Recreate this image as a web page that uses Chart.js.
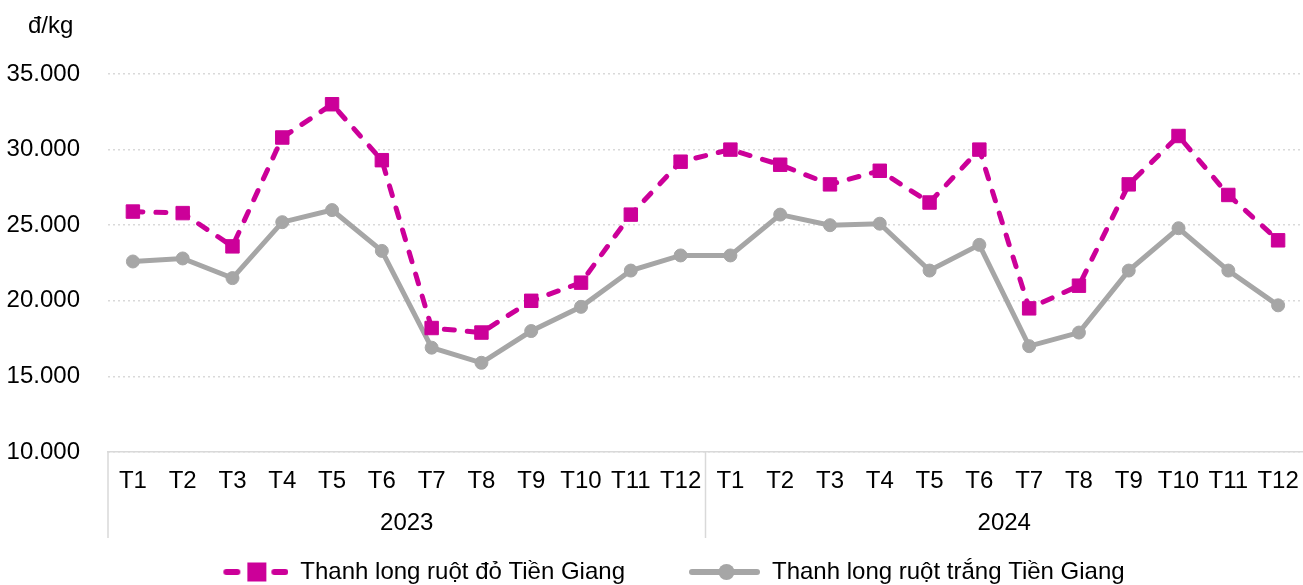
<!DOCTYPE html>
<html>
<head>
<meta charset="utf-8">
<script src="https://cdn.jsdelivr.net/npm/chart.js@4.4.1/dist/chart.umd.min.js"></script>
<style>
  html, body { margin: 0; padding: 0; background: #fff; }
</style>
</head>
<body>
<canvas id="chart" width="1303" height="585"></canvas>
<script>
const months = ["T1", "T2", "T3", "T4", "T5", "T6", "T7", "T8", "T9", "T10", "T11", "T12"];
const years = ["2023", "2024"];
const labels = [...months, ...months];
const seriesNames = ["Thanh long ruột đỏ Tiền Giang", "Thanh long ruột trắng Tiền Giang"];
const redFlesh = [25900, 25800, 23600, 30800, 33000, 29300, 18200, 17900, 20000, 21200, 25700, 29200,
                  30000, 29000, 27700, 28600, 26500, 30000, 19500, 21000, 27700, 30900, 27000, 24000];
const whiteFlesh = [22600, 22800, 21500, 25200, 26000, 23300, 16900, 15900, 18000, 19600, 22000, 23000,
                    23000, 25700, 25000, 25100, 22000, 23700, 17000, 17900, 22000, 24800, 22000, 19700];
const yMin = 10000, yMax = 35000, yStep = 5000;
const unitLabel = "đ/kg";

const fontFamily = "'Liberation Sans', Arial, sans-serif";
const font = { family: fontFamily, size: 24 };
const magenta = "#CC0099";
const gray = "#A6A6A6";
const lineGray = "#D9D9D9";

// legend icons: line + marker, drawn at the right end of a wide box
function makeIcon(kind) {
  const c = document.createElement("canvas");
  c.width = 130; c.height = 24;
  const g = c.getContext("2d");
  g.lineCap = "round";
  if (kind === "rect") {
    const x0 = 65;
    g.strokeStyle = magenta; g.fillStyle = magenta; g.lineWidth = 6;
    g.beginPath(); g.moveTo(x0 + 3, 12); g.lineTo(x0 + 14, 12); g.stroke();
    g.beginPath(); g.moveTo(x0 + 51, 12); g.lineTo(x0 + 62, 12); g.stroke();
    g.fillRect(x0 + 24, 2.5, 19, 19);
  } else {
    const x0 = 59;
    g.strokeStyle = gray; g.fillStyle = gray; g.lineWidth = 6;
    g.beginPath(); g.moveTo(x0 + 3, 12); g.lineTo(x0 + 68, 12); g.stroke();
    g.beginPath(); g.arc(x0 + 37.5, 12, 8, 0, Math.PI * 2); g.fill();
  }
  return c;
}
const legendIcons = [makeIcon("rect"), makeIcon("circle")];

// vertical lines splitting the two year groups under the axis
const yearSeparators = {
  id: "yearSeparators",
  afterDraw(chart) {
    const x = chart.scales.x, x2 = chart.scales.x2, ctx = chart.ctx;
    ctx.save();
    ctx.strokeStyle = lineGray;
    ctx.lineWidth = 1.5;
    for (let i = 0; i < labels.length; i += months.length) {
      const px = x.getPixelForValue(i - 0.5);
      ctx.beginPath();
      ctx.moveTo(px, x.top);
      ctx.lineTo(px, x2.top + 38);
      ctx.stroke();
    }
    ctx.restore();
  }
};

const unitText = {
  id: "unitText",
  afterDraw(chart) {
    const ctx = chart.ctx;
    ctx.save();
    ctx.font = `24px ${fontFamily}`;
    ctx.fillStyle = "#000";
    ctx.textBaseline = "middle";
    ctx.fillText(unitLabel, chart.scales.y.right - 80, 26);
    ctx.restore();
  }
};

new Chart(document.getElementById("chart"), {
  type: "line",
  data: {
    labels: labels,
    datasets: [
      {
        label: seriesNames[0],
        data: redFlesh,
        borderColor: magenta,
        backgroundColor: magenta,
        borderWidth: 5,
        borderDash: [10, 13],
        borderCapStyle: "round",
        tension: 0,
        pointStyle: "rect",
        pointRadius: 9.5,
        pointBackgroundColor: magenta,
        pointBorderColor: magenta,
        pointBorderWidth: 1,
      },
      {
        label: seriesNames[1],
        data: whiteFlesh,
        borderColor: gray,
        backgroundColor: gray,
        borderWidth: 5,
        tension: 0,
        pointStyle: "circle",
        pointRadius: 6.5,
        pointBackgroundColor: gray,
        pointBorderColor: gray,
        pointBorderWidth: 1,
      }
    ]
  },
  options: {
    responsive: false,
    devicePixelRatio: 1,
    animation: false,
    events: [],
    // negative side paddings nudge the centred legend to where the original sits
    layout: { autoPadding: false, padding: { top: 74, left: -20, right: 0, bottom: -9 } },
    plugins: {
      tooltip: { enabled: false },
      title: { display: false },
      legend: {
        position: "bottom",
        labels: {
          usePointStyle: true,
          pointStyleWidth: 130,
          padding: 5,
          color: "#000",
          font: font,
          generateLabels: chart => chart.data.datasets.map((ds, i) => ({
            text: ds.label,
            pointStyle: legendIcons[i],
            datasetIndex: i,
            fillStyle: "transparent",
            strokeStyle: "transparent",
            lineWidth: 0,
            hidden: false,
          })),
        }
      }
    },
    scales: {
      x: {
        type: "category",
        offset: true,
        grid: { display: false },
        border: { display: true, color: lineGray, width: 1.5 },
        ticks: { autoSkip: false, maxRotation: 0, padding: 7, color: "#000", font: font },
        afterFit: s => { s.height = 48; s.paddingLeft = 0; s.paddingRight = 0; }
      },
      x2: {
        type: "category",
        labels: years,
        position: "bottom",
        offset: true,
        grid: { display: false },
        border: { display: false },
        ticks: { padding: 1, color: "#000", font: font },
        afterFit: s => { s.height = 55; s.paddingLeft = 0; s.paddingRight = 0; }
      },
      y: {
        min: yMin,
        max: yMax,
        ticks: {
          stepSize: yStep,
          padding: 28,
          color: "#000",
          font: font,
          callback: v => v.toLocaleString("de-DE")
        },
        grid: { color: lineGray, lineWidth: 1.5, drawTicks: false },
        border: { display: false, dash: [2, 3] },
        afterFit: s => { s.width = 128; }
      }
    }
  },
  plugins: [yearSeparators, unitText]
});
</script>
</body>
</html>
